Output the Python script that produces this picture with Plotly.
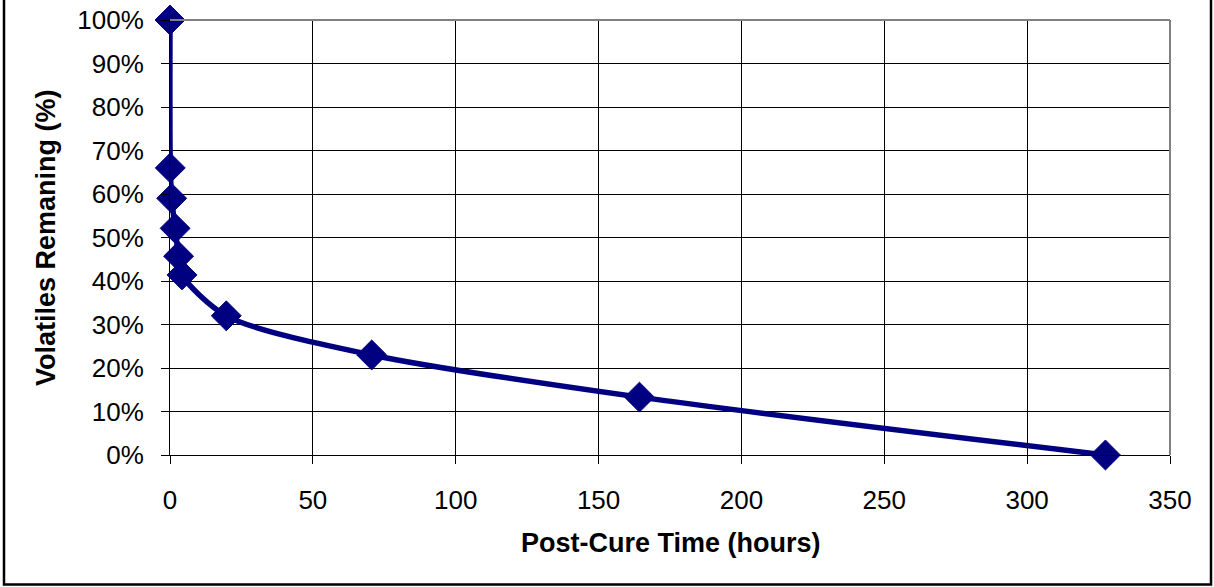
import plotly.graph_objects as go

hours = [0, 0.1, 0.6, 1.8, 3.0, 4.2, 19.7, 70.6, 164.3, 327.4]
remaining = [100, 66, 59, 52.1, 45.7, 41.4, 32.0, 23.0, 13.3, 0]

x_ticks = [0, 50, 100, 150, 200, 250, 300, 350]
y_ticks = [0, 10, 20, 30, 40, 50, 60, 70, 80, 90, 100]
y_labels = [f"{v}%" for v in y_ticks]

navy = "#000080"
font = "Liberation Sans, Arial, sans-serif"

fig = go.Figure()
fig.add_trace(go.Scatter(
    x=hours, y=remaining, mode="lines+markers",
    line=dict(color=navy, width=5.5, shape="spline", smoothing=0.8),
    marker=dict(symbol="diamond", size=23, color=navy, line=dict(color=navy, width=1)),
    cliponaxis=False, showlegend=False,
))

fig.update_layout(
    width=1214, height=587,
    margin=dict(l=170, r=44, t=20, b=132, autoexpand=False),
    paper_bgcolor="white", plot_bgcolor="white",
    font=dict(family=font, color="black"),
    xaxis=dict(
        range=[0, 350], tickvals=x_ticks, ticktext=[str(v) for v in x_ticks],
        showgrid=True, gridcolor="black", gridwidth=1,
        showline=True, linecolor="black", linewidth=1,
        ticks="outside", ticklen=8, tickcolor="black",
        tickfont=dict(size=26, family=font), ticklabelstandoff=14,
        zeroline=False, automargin=False,
    ),
    yaxis=dict(
        range=[0, 100], tickvals=y_ticks, ticktext=y_labels,
        showgrid=True, gridcolor="black", gridwidth=1,
        showline=True, linecolor="black", linewidth=1,
        ticks="outside", ticklen=8, tickcolor="black",
        tickfont=dict(size=26, family=font), ticklabelstandoff=12,
        zeroline=False, automargin=False,
    ),
    shapes=[
        dict(type="line", xref="paper", yref="paper", x0=0, x1=1, y0=1, y1=1,
             line=dict(color="#808080", width=2)),
        dict(type="line", xref="paper", yref="paper", x0=1, x1=1, y0=0, y1=1,
             line=dict(color="#808080", width=2)),
        dict(type="rect", xref="paper", yref="paper",
             x0=(4 - 170) / 1000, x1=(1211 - 170) / 1000,
             y0=(455 - 584.5) / 435, y1=(455 + 10) / 435,
             line=dict(color="black", width=2.5), fillcolor="rgba(0,0,0,0)", layer="above"),
    ],
    annotations=[
        dict(text="<b>Post-Cure Time (hours)</b>", xref="paper", yref="paper",
             x=(671 - 170) / 1000, y=(455 - 543) / 435, showarrow=False,
             xanchor="center", yanchor="middle", font=dict(size=27, family=font)),
        dict(text="<b>Volatiles Remaning (%)</b>", xref="paper", yref="paper",
             x=(46 - 170) / 1000, y=(455 - 238) / 435, showarrow=False, textangle=-90,
             xanchor="center", yanchor="middle", font=dict(size=27, family=font)),
    ],
)

fig.write_html("out.html")
